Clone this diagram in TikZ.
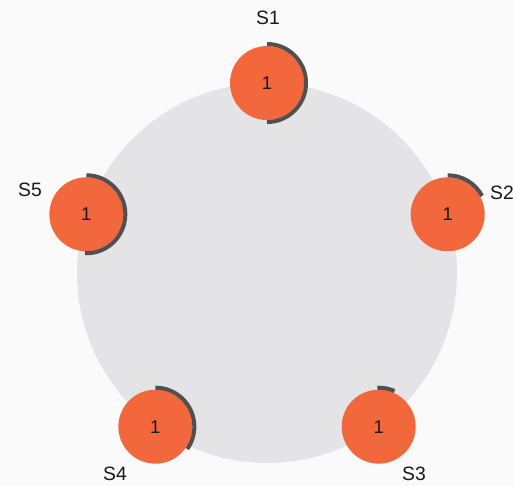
\documentclass[tikz,border=0pt]{standalone}
\usepackage{fontspec}
\setmainfont{Liberation Sans}
\usetikzlibrary{calc}
\definecolor{bgc}{RGB}{250,250,250}
\definecolor{ringc}{RGB}{228,228,230}
\definecolor{nodec}{RGB}{242,104,60}
\definecolor{arcc}{RGB}{80,80,80}
\begin{document}
\begin{tikzpicture}[x=0.02cm,y=0.02cm,
  srv/.style={circle,fill=nodec,minimum size=1.48cm,inner sep=0pt,font=\fontsize{10.5}{12}\selectfont,text=black!90},
  lbl/.style={font=\fontsize{11}{13}\selectfont,text=black!90},
  logarc/.style={draw=arcc,line width=2.3pt}]
\useasboundingbox[fill=bgc] (0,0) rectangle (513,486);
\coordinate (c) at (267,213);
\fill[ringc] (c) circle[radius=3.8cm];
\node[srv] (s1) at ($(c)+(90:3.8cm)$) {1};
\node[srv] (s2) at ($(c)+(18:3.8cm)$) {1};
\node[srv] (s3) at ($(c)+(-54:3.8cm)$) {1};
\node[srv] (s4) at ($(c)+(-126:3.8cm)$) {1};
\node[srv] (s5) at ($(c)+(162:3.8cm)$) {1};
\draw[logarc] ([shift={(90:0.78cm)}]s1.center) arc[start angle=90,end angle=-90,radius=0.78cm];
\draw[logarc] ([shift={(90:0.78cm)}]s2.center) arc[start angle=90,end angle=28,radius=0.78cm];
\draw[logarc] ([shift={(92:0.78cm)}]s3.center) arc[start angle=92,end angle=66,radius=0.78cm];
\draw[logarc] ([shift={(90:0.78cm)}]s4.center) arc[start angle=90,end angle=-35,radius=0.78cm];
\draw[logarc] ([shift={(90:0.78cm)}]s5.center) arc[start angle=90,end angle=-92,radius=0.78cm];
\node[lbl] (l1) at (268,468) {S1};
\node[lbl] (l2) at (502,293) {S2};
\node[lbl] (l3) at (414,12) {S3};
\node[lbl] (l4) at (115,12) {S4};
\node[lbl] (l5) at (30,296) {S5};
\end{tikzpicture}
\end{document}
